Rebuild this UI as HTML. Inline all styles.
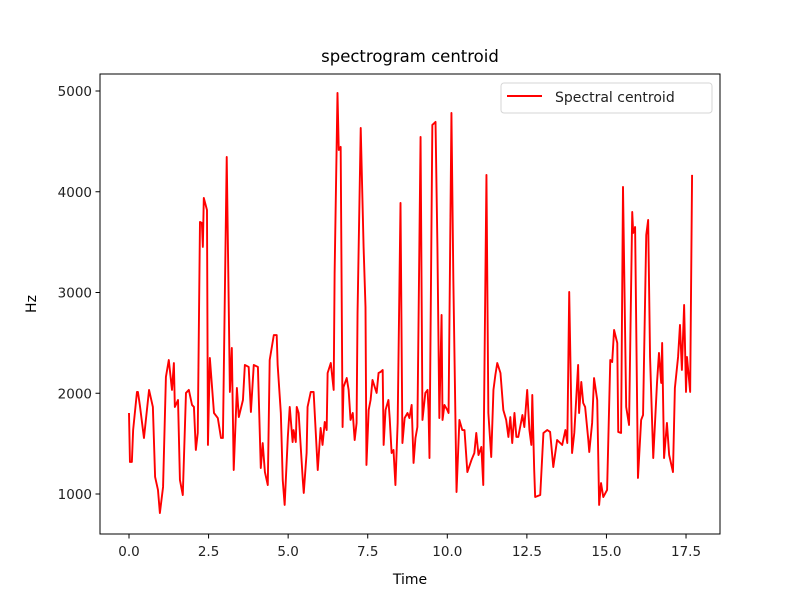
<!DOCTYPE html>
<html><head><meta charset="utf-8"><style>
body{margin:0;background:#fff;}
svg{display:block;font-family:"DejaVu Sans","Liberation Sans",sans-serif;}
</style></head><body>
<svg id="chart" width="800" height="600">
<rect x="0" y="0" width="800" height="600" fill="#fff"/>
<text x="410" y="62" text-anchor="middle" font-size="16.5" fill="#000">spectrogram centroid</text>
<g id="plot"></g>
<text x="410" y="584" text-anchor="middle" font-size="14" fill="#000">Time</text>
<text transform="translate(36,304) rotate(-90)" text-anchor="middle" font-size="14" fill="#000">Hz</text>
<g>
<rect x="501" y="83" width="211" height="30" rx="3" fill="#fff" fill-opacity="0.8" stroke="#d6d6d6"/>
<line x1="507" y1="96" x2="542" y2="96" stroke="#ff0000" stroke-width="2"/>
<text x="555" y="102" font-size="14" fill="#222">Spectral centroid</text>
</g>
</svg>
<script>
const times = [0.0,0.03,0.09,0.13,0.25,0.28,0.34,0.47,0.63,0.75,0.82,0.91,0.97,1.07,1.16,1.25,1.35,1.41,1.44,1.54,1.60,1.69,1.79,1.88,1.98,2.04,2.10,2.16,2.23,2.29,2.32,2.35,2.45,2.48,2.54,2.67,2.79,2.89,2.95,3.07,3.17,3.23,3.29,3.39,3.45,3.58,3.64,3.76,3.83,3.92,4.05,4.14,4.20,4.27,4.36,4.42,4.55,4.64,4.67,4.77,4.83,4.89,4.99,5.05,5.14,5.17,5.24,5.27,5.33,5.46,5.49,5.58,5.61,5.71,5.80,5.93,6.02,6.08,6.15,6.21,6.24,6.34,6.43,6.46,6.55,6.59,6.65,6.71,6.74,6.84,6.90,6.96,7.03,7.09,7.15,7.18,7.28,7.37,7.43,7.46,7.53,7.59,7.65,7.72,7.78,7.84,7.90,7.97,8.00,8.06,8.15,8.19,8.25,8.31,8.37,8.44,8.53,8.59,8.66,8.75,8.81,8.88,8.94,9.00,9.06,9.16,9.22,9.31,9.38,9.41,9.44,9.53,9.63,9.69,9.75,9.82,9.85,9.91,10.00,10.04,10.13,10.19,10.29,10.38,10.47,10.54,10.63,10.76,10.85,10.91,10.98,11.07,11.13,11.23,11.29,11.38,11.45,11.51,11.57,11.67,11.76,11.85,11.92,11.98,12.04,12.11,12.17,12.23,12.36,12.42,12.51,12.58,12.64,12.67,12.73,12.76,12.92,13.02,13.14,13.23,13.33,13.45,13.61,13.71,13.77,13.83,13.92,13.99,14.11,14.14,14.21,14.27,14.33,14.43,14.46,14.55,14.61,14.71,14.77,14.83,14.90,15.02,15.12,15.18,15.24,15.34,15.37,15.46,15.52,15.62,15.65,15.71,15.81,15.84,15.90,15.99,16.09,16.15,16.25,16.31,16.37,16.47,16.59,16.65,16.72,16.75,16.81,16.90,16.97,17.09,17.15,17.25,17.31,17.37,17.44,17.50,17.53,17.63,17.69];
const centroidHz = [1804,1318,1318,1636,2013,2013,1884,1556,2033,1864,1169,1040,811,1070,2162,2330,2033,2300,1864,1933,1139,990,2003,2033,1884,1864,1437,1606,3700,3690,3452,3938,3819,1487,2350,1804,1754,1556,1556,4345,2013,2449,1238,2052,1764,1933,2281,2261,1814,2281,2261,1258,1506,1218,1089,2330,2578,2578,2281,1804,1139,891,1566,1864,1516,1635,1516,1864,1804,1139,1010,1407,1864,2013,2013,1238,1655,1487,1715,1635,2201,2300,2033,3194,4981,4415,4445,1665,2062,2151,2033,1735,1804,1536,1705,2797,4633,3452,2856,1288,1834,1933,2132,2062,2003,2201,2211,2231,1487,1834,1933,1754,1407,1437,1089,1705,3889,1506,1754,1804,1754,1884,1308,1556,1665,4544,1735,2003,2033,1834,1357,4663,4693,3452,1754,2777,1735,1884,1834,1804,4782,3124,1020,1735,1635,1635,1218,1338,1407,1606,1387,1467,1089,4167,1804,1367,2033,2181,2300,2201,1834,1735,1566,1764,1506,1804,1566,1566,1784,1665,2033,1635,1487,1983,1238,970,990,1606,1635,1616,1268,1536,1487,1635,1506,3005,1407,1606,2281,1804,2112,1903,1864,1536,1417,1705,2151,1933,891,1109,970,1040,2330,2310,2628,2499,1616,1606,4048,1864,1804,1685,3799,3591,3650,1159,1735,1784,3571,3720,2360,1357,2112,2400,2102,2499,1357,1705,1387,1218,2052,2360,2678,2231,2876,2013,2360,2013,4167];
const xTicks = [0, 2.5, 5, 7.5, 10, 12.5, 15, 17.5];
const xTickLabels = ["0.0","2.5","5.0","7.5","10.0","12.5","15.0","17.5"];
const yTicks = [1000, 2000, 3000, 4000, 5000];
const yTickLabels = ["1000","2000","3000","4000","5000"];

const NS = "http://www.w3.org/2000/svg";
const L = 100, R = 720, T = 74, B = 534;
function xs(t){ return 129 + t * 31.83; }
function ys(v){ return 494 - (v - 1000) * 0.10075; }
const g = document.getElementById('plot');
function mk(tag, attrs){ const e = document.createElementNS(NS, tag); for (const k in attrs) e.setAttribute(k, attrs[k]); return e; }

const clip = mk('clipPath', {id:'clipA'});
clip.appendChild(mk('rect', {x:L, y:T, width:R-L, height:B-T}));
g.appendChild(clip);

let d = '';
for (let i = 0; i < times.length; i++) d += (i ? 'L' : 'M') + xs(times[i]).toFixed(2) + ',' + ys(centroidHz[i]).toFixed(2);
const line = mk('path', {d:d, fill:'none', stroke:'#ff0000', 'stroke-width':'1.9', 'stroke-linejoin':'round', 'clip-path':'url(#clipA)'});


g.appendChild(line);

const frame = mk('rect', {x:L, y:T, width:R-L, height:B-T, fill:'none', stroke:'#000', 'stroke-width':'1'});


g.appendChild(frame);

xTicks.forEach((t, i) => {
  const x = xs(t);
  const tk = mk('line', {x1:x, y1:B, x2:x, y2:B+4.5, stroke:'#000', 'stroke-width':'1'});
  
  
  g.appendChild(tk);
  const lb = mk('text', {x:x, y:B+22, 'text-anchor':'middle', 'font-size':'13.5', fill:'#222'});
  lb.textContent = xTickLabels[i];
  
  
  g.appendChild(lb);
});
yTicks.forEach((v, i) => {
  const y = ys(v);
  const tk = mk('line', {x1:L-4.5, y1:y, x2:L, y2:y, stroke:'#000', 'stroke-width':'1'});
  
  
  g.appendChild(tk);
  const lb = mk('text', {x:L-8, y:y+5, 'text-anchor':'end', 'font-size':'13.5', fill:'#222'});
  lb.textContent = yTickLabels[i];
  
  
  g.appendChild(lb);
});
</script>
</body></html>
